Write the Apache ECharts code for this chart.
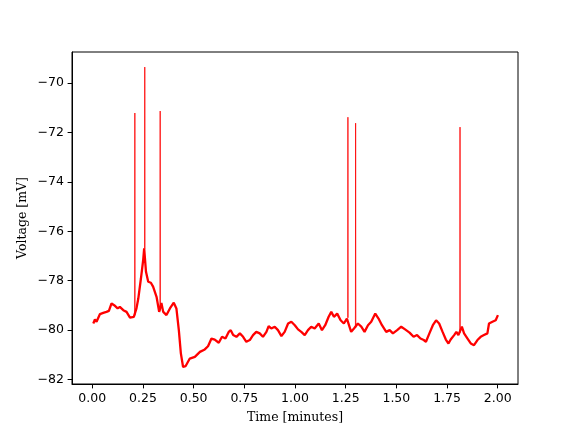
<!DOCTYPE html>
<html>
<head>
<meta charset="utf-8">
<script src="https://cdn.jsdelivr.net/npm/echarts@6/dist/echarts.min.js"></script>
<style>html,body{margin:0;padding:0;background:#fff}#c{width:576px;height:432px}</style>
</head>
<body>
<div id="c"></div>
<script>
// Baseline membrane voltage trace (time in minutes, voltage in mV)
var times = [0.005,0.013,0.021,0.038,0.054,0.070,0.082,0.095,0.108,0.125,0.136,0.153,0.169,0.186,0.194,0.205,0.218,0.227,0.240,0.251,0.256,0.265,0.276,0.289,0.300,0.317,0.330,0.341,0.350,0.366,0.383,0.402,0.415,0.427,0.437,0.448,0.460,0.481,0.506,0.531,0.555,0.571,0.588,0.604,0.624,0.640,0.657,0.673,0.683,0.695,0.711,0.728,0.744,0.760,0.777,0.793,0.809,0.826,0.842,0.859,0.870,0.883,0.900,0.916,0.933,0.949,0.966,0.982,0.999,1.015,1.031,1.048,1.064,1.080,1.097,1.117,1.133,1.149,1.166,1.179,1.192,1.208,1.225,1.241,1.256,1.277,1.291,1.310,1.327,1.343,1.360,1.376,1.396,1.412,1.429,1.450,1.467,1.483,1.504,1.524,1.543,1.565,1.585,1.602,1.619,1.635,1.646,1.663,1.680,1.696,1.711,1.728,1.744,1.757,1.768,1.785,1.796,1.806,1.823,1.834,1.851,1.867,1.883,1.900,1.916,1.932,1.949,1.957,1.974,1.990,2.001];
var volts = [-79.73,-79.57,-79.66,-79.35,-79.30,-79.26,-79.22,-78.92,-78.99,-79.12,-79.06,-79.19,-79.26,-79.49,-79.57,-79.46,-79.12,-78.72,-77.91,-77.17,-76.69,-77.64,-78.04,-78.08,-78.24,-78.65,-79.26,-78.90,-79.26,-79.39,-79.12,-78.89,-79.12,-80.00,-80.94,-81.49,-81.46,-81.15,-81.08,-80.88,-80.78,-80.65,-80.34,-80.38,-80.51,-80.27,-80.34,-80.07,-80.00,-80.20,-80.27,-80.13,-80.27,-80.47,-80.40,-80.20,-80.07,-80.13,-80.27,-80.07,-79.84,-79.93,-79.86,-80.00,-80.24,-80.07,-79.73,-79.66,-79.80,-79.97,-80.07,-80.20,-80.00,-79.86,-79.93,-79.73,-80.00,-79.80,-79.46,-79.26,-79.46,-79.33,-79.60,-79.73,-79.53,-80.07,-79.93,-79.73,-79.86,-80.07,-79.80,-79.66,-79.33,-79.53,-79.80,-80.07,-80.00,-80.13,-80.00,-79.86,-79.97,-80.10,-80.27,-80.20,-80.34,-80.40,-80.47,-80.13,-79.80,-79.60,-79.73,-80.07,-80.38,-80.54,-80.38,-80.20,-80.07,-80.20,-79.86,-80.13,-80.34,-80.54,-80.61,-80.40,-80.27,-80.20,-80.13,-79.73,-79.66,-79.60,-79.39];

// Action-potential spikes
var spikeTimes = [0.210, 0.259, 0.335, 1.261, 1.299, 1.814];
var spikeBases = [-79.40, -76.70, -79.20, -79.50, -79.90, -80.10];
var spikePeaks = [-71.21, -69.35, -71.13, -71.38, -71.62, -71.78];

// Tick labels
var xTicks = [0, 0.25, 0.5, 0.75, 1.0, 1.25, 1.5, 1.75, 2.0];
var yTicks = [-82, -80, -78, -76, -74, -72, -70];

var baseData = times.map(function(t, i){ return [t, volts[i]]; });
var spikeData = [];
spikeTimes.forEach(function(t, i){
  spikeData.push([t - 0.001, spikeBases[i]]);
  spikeData.push([t, spikePeaks[i]]);
  spikeData.push([t + 0.001, spikeBases[i]]);
  spikeData.push([null, null]);
});

var tickFont = {fontFamily: 'DejaVu Sans', fontSize: 12.5, color: '#000'};
var chart = echarts.init(document.getElementById('c'), null, {renderer: 'canvas'});
chart.setOption({
  animation: false,
  grid: {left: 72, right: 58, top: 52, bottom: 48, show: true, borderColor: '#000', borderWidth: 1, backgroundColor: 'transparent'},
  xAxis: {
    type: 'value', min: -0.1, max: 2.1,
    name: 'Time [minutes]', nameLocation: 'middle', nameGap: 27, nameMoveOverlap: false,
    nameTextStyle: {fontFamily: 'DejaVu Serif', fontSize: 12.5, color: '#000'},
    axisLine: {show: true, onZero: false, lineStyle: {color: '#000', width: 1}},
    splitLine: {show: false},
    axisTick: {show: true, inside: false, length: 4.4, customValues: xTicks, lineStyle: {color: '#000', width: 1}},
    axisLabel: Object.assign({margin: 8, customValues: xTicks, formatter: function(v){ return v.toFixed(2); }}, tickFont)
  },
  yAxis: {
    type: 'value', min: -82.18, max: -68.74,
    name: 'Voltage [mV]', nameLocation: 'middle', nameGap: 43, nameRotate: 90, nameMoveOverlap: false,
    nameTextStyle: {fontFamily: 'DejaVu Serif', fontSize: 12.5, color: '#000'},
    axisLine: {show: true, onZero: false, lineStyle: {color: '#000', width: 1}},
    splitLine: {show: false},
    axisTick: {show: true, inside: false, length: 4.4, customValues: yTicks, lineStyle: {color: '#000', width: 1}},
    axisLabel: Object.assign({margin: 8, customValues: yTicks, formatter: function(v){ return String(v).replace('-', '\u2212'); }}, tickFont)
  },
  series: [
    {type: 'line', data: spikeData, showSymbol: false, connectNulls: false, lineStyle: {color: '#ff0000', width: 1, opacity: 0.8}, z: 2},
    {type: 'line', data: baseData, showSymbol: false, lineStyle: {color: '#ff0000', width: 2.3}, z: 3}
  ]
});
</script>
</body>
</html>
